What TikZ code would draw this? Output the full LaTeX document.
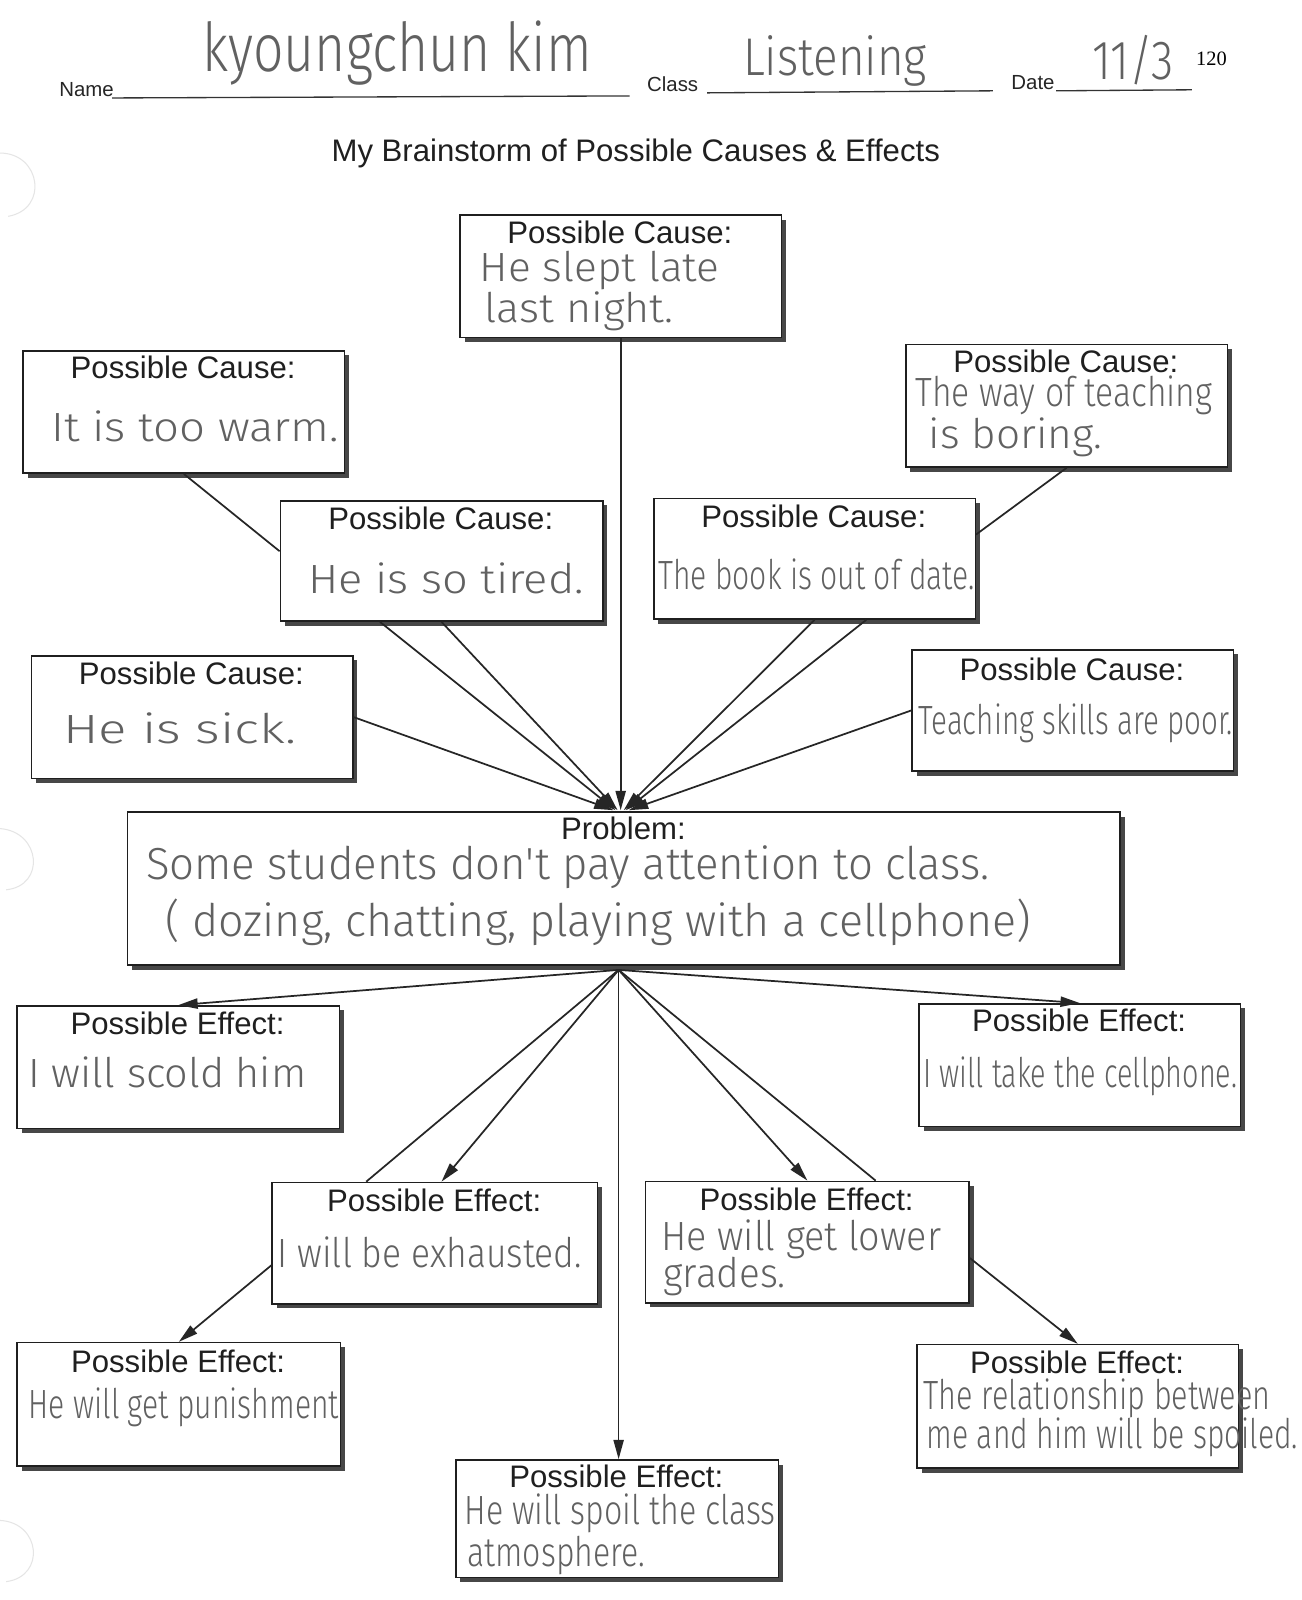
\documentclass[tikz,border=0pt]{standalone}
\usepackage{fontspec}
\usepackage{graphicx}
\setmainfont{Liberation Sans}
\newfontfamily\hand{Fira Sans Light}
\newfontfamily\serifnum{Liberation Serif}
\usetikzlibrary{shadows,arrows.meta,calc}
\newcommand{\hw}[2]{\resizebox{#1}{\height}{#2}}
\begin{document}
\begin{tikzpicture}[x=1pt,y=-1pt,
  box/.style={draw=black!88, line width=1.5pt, fill=white, anchor=north west, inner sep=0pt,
    minimum width=315pt, minimum height=120pt,
    drop shadow={shadow xshift=4.5pt, shadow yshift=-4.5pt, fill=black!72, opacity=1}},
  hd/.style={anchor=base, font=\fontsize{30.5}{36}\selectfont, text=black!88, inner sep=0pt},
  hwt/.style={anchor=base west, font=\hand\fontsize{40}{48}\selectfont, text=black!62, inner sep=0pt},
  lbl/.style={anchor=base west, font=\fontsize{20}{24}\selectfont, text=black!85, inner sep=0pt},
  conn/.style={draw=black!85, line width=1.7pt},
  arr/.style={conn, -{Triangle[length=19pt,width=10pt]}},
  uline/.style={draw=black!80, line width=1.3pt}]
\fill[white] (0,0) rectangle (1275,1568);
\useasboundingbox (0,0) rectangle (1275,1568);

% faint punch holes
\draw[black!10, line width=1pt] (0,150) .. controls (40,150) and (48,205) .. (8,212);
\draw[black!10, line width=1pt] (0,812) .. controls (40,815) and (45,868) .. (6,872);
\draw[black!10, line width=1pt] (0,1490) .. controls (40,1492) and (45,1545) .. (6,1550);

% header
\node[lbl] (lname) at (58,95) {Name};
\draw[uline] (110,96) -- (617,94);
\node[lbl] (lclass) at (634,90) {Class};
\draw[uline] (693,91) -- (973,89);
\node[lbl] (ldate) at (991,88) {Date};
\draw[uline] (1035,89) -- (1168,88);
\node[anchor=base west, font=\serifnum\fontsize{20}{24}\selectfont, inner sep=0pt] (num) at (1172,64) {120};
\node[hwt, font=\hand\fontsize{66}{70}\selectfont] (hname) at (198,70) {\hw{382pt}{kyoungchun kim}};
\node[hwt, font=\hand\fontsize{52}{56}\selectfont] (hclass) at (728,74) {\hw{180pt}{Listening}};
\node[hwt, font=\hand\fontsize{54}{58}\selectfont] (hdate) at (1070,78) {\hw{80pt}{11/3}};
\node[hd] (title) at (623,158) {My Brainstorm of Possible Causes \& Effects};

% causes
\node[box] (cA) at (450,210) {};
\node[hd] (cAh) at (607.5,239) {Possible Cause:};
\node[hwt] (cAt1) at (470,276) {\hw{235pt}{He slept late}};
\node[hwt] (cAt2) at (475,316) {\hw{185pt}{last night.}};

\node[box] (warm) at (22,343) {};
\node[hd] (warmh) at (179.5,371) {Possible Cause:};
\node[hwt] (warmt) at (50,433) {\hw{282pt}{It is too warm.}};

\node[box] (boring) at (887,337) {};
\node[hd] (boringh) at (1044.5,365) {Possible Cause:};
\node[hwt] (boringt1) at (897,398) {\hw{291pt}{The way of teaching}};
\node[hwt] (boringt2) at (910,440) {\hw{170pt}{is boring.}};

\node[box, minimum width=316pt, minimum height=118pt] (tired) at (274,490) {};
\node[hd] (tiredh) at (432,519) {Possible Cause:};
\node[hwt] (tiredt) at (302,582) {\hw{270pt}{He is so tired.}};

\node[box, minimum height=118pt] (book) at (640,488) {};
\node[hd] (bookh) at (797.5,517) {Possible Cause:};
\node[hwt] (bookt) at (645,578) {\hw{310pt}{The book is out of date.}};

\node[box] (sick) at (30,642) {};
\node[hd] (sickh) at (187.5,671) {Possible Cause:};
\node[hwt] (sickt) at (62,729) {\hw{228pt}{He is sick.}};

\node[box, minimum height=119pt] (poor) at (893,636) {};
\node[hd] (poorh) at (1050.5,667) {Possible Cause:};
\node[hwt] (poort) at (900,720) {\hw{308pt}{Teaching skills are poor.}};

% problem
\node[box, minimum width=973pt, minimum height=150pt] (pb) at (124,795) {};
\node[hd] (pbh) at (611,823) {Problem:};
\node[hwt, font=\hand\fontsize{44}{50}\selectfont] (pbt1) at (143,862) {\hw{827pt}{Some students don't pay attention to class.}};
\node[hwt, font=\hand\fontsize{44}{50}\selectfont] (pbt2) at (162,918) {\hw{848pt}{( dozing, chatting, playing with a cellphone)}};

% effects
\node[box, minimum width=316pt] (scold) at (16,985) {};
\node[hd] (scoldh) at (174,1014) {Possible Effect:};
\node[hwt] (scoldt) at (28,1066) {\hw{272pt}{I will scold him}};

\node[box] (cell) at (900,983) {};
\node[hd] (cellh) at (1057.5,1011) {Possible Effect:};
\node[hwt] (cellt) at (905,1066) {\hw{307pt}{I will take the cellphone.}};

\node[box, minimum width=319pt, minimum height=119pt] (exh) at (266,1158) {};
\node[hd] (exhh) at (425.5,1187) {Possible Effect:};
\node[hwt] (exht) at (272,1242) {\hw{298pt}{I will be exhausted.}};

\node[box, minimum width=317pt, minimum height=119pt] (grade) at (632,1157) {};
\node[hd] (gradeh) at (790.5,1186) {Possible Effect:};
\node[hwt] (gradet1) at (648,1225) {\hw{274pt}{He will get lower}};
\node[hwt] (gradet2) at (650,1262) {\hw{120pt}{grades.}};

\node[box, minimum width=317pt, minimum height=121pt] (pun) at (16,1315) {};
\node[hd] (punh) at (174.5,1345) {Possible Effect:};
\node[hwt] (punt) at (28,1390) {\hw{304pt}{He will get punishment}};

\node[box, minimum height=121pt] (rel) at (898,1317) {};
\node[hd] (relh) at (1055.5,1346) {Possible Effect:};
\node[hwt] (relt1) at (905,1381) {\hw{340pt}{The relationship between}};
\node[hwt] (relt2) at (908,1420) {\hw{364pt}{me and him will be spoiled.}};

\node[box, minimum width=316pt, minimum height=115pt] (atm) at (446,1430) {};
\node[hd] (atmh) at (604,1458) {Possible Effect:};
\node[hwt] (atmt1) at (455,1494) {\hw{305pt}{He will spoil the class}};
\node[hwt] (atmt2) at (458,1535) {\hw{174pt}{atmosphere.}};

% connectors: causes
\coordinate (hubT) at ([yshift=1pt]pb.north);
\draw[conn] (warm.south) -- ($(tired.north west)!0.42!(tired.south west)$);
\draw[conn] (boring.south) -- ($(book.north east)!0.3!(book.south east)$);
\draw[arr] (cA.south) -- (cA.south |- hubT);
\draw[arr] ($(tired.south west)!0.31!(tired.south east)$) -- ([xshift=-8pt]hubT);
\draw[arr] (tired.south) -- ([xshift=-6pt]hubT);
\draw[arr] (sick.east) -- ([xshift=-10pt]hubT);
\draw[arr] (book.south) -- ([xshift=0pt]hubT);
\draw[arr] ($(book.south west)!0.66!(book.south east)$) -- ([xshift=2pt]hubT);
\draw[arr] (poor.west) -- ([xshift=5pt]hubT);

% connectors: effects
\coordinate (hubB) at ([xshift=-5pt,yshift=-4pt]pb.south);
\draw[arr] (hubB) -- (scold.north);
\draw[arr] (hubB) -- (cell.north);
\draw[conn] (hubB) -- ($(exh.north west)!0.29!(exh.north east)$);
\draw[arr] (hubB) -- ($(exh.north west)!0.52!(exh.north east)$);
\draw[arr] (hubB) -- (grade.north);
\draw[conn] (hubB) -- ($(grade.north west)!0.71!(grade.north east)$);
\draw[arr] (hubB) -- (hubB |- atm.north);
\draw[arr] ($(exh.north west)!0.68!(exh.south west)$) -- (pun.north);
\draw[arr] ($(grade.north east)!0.63!(grade.south east)$) -- (rel.north);
\end{tikzpicture}
\end{document}
